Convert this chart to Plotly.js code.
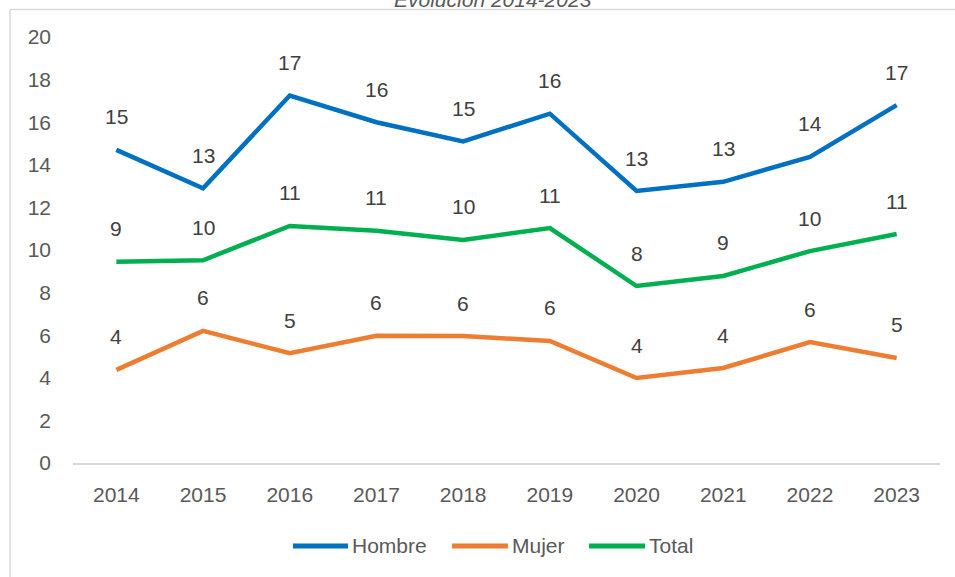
<!DOCTYPE html>
<html>
<head>
<meta charset="utf-8">
<script src="https://cdn.plot.ly/plotly-3.0.1.min.js"></script>
<style>html,body{margin:0;padding:0;background:#fff;}#chart{width:955px;height:577px;}</style>
</head>
<body>
<div id="chart"></div>
<script>
const years = ['2014','2015','2016','2017','2018','2019','2020','2021','2022','2023'];
const hombre = [14.7, 12.9, 17.25, 16.0, 15.1, 16.4, 12.77, 13.2, 14.37, 16.8];
const mujer  = [4.37, 6.2, 5.16, 5.97, 5.96, 5.73, 3.99, 4.46, 5.68, 4.93];
const total  = [9.45, 9.52, 11.13, 10.9, 10.47, 11.03, 8.31, 8.78, 9.95, 10.75];
const seriesNames = ['Hombre', 'Mujer', 'Total'];
const seriesColors = ['#0070C0', '#ED7D31', '#00B050'];
const allSeries = [hombre, mujer, total];
const chartTitle = 'Evolución 2014-2023';

const font = 'Liberation Sans, Arial, sans-serif';
const traces = allSeries.map((vals, i) => ({
  type: 'scatter', mode: 'lines', x: years, y: vals, name: seriesNames[i],
  line: {color: seriesColors[i], width: 4.5}, hoverinfo: 'skip', showlegend: false
}));

const annotations = [];
const shapes = [];
allSeries.forEach(vals => {
  vals.forEach((v, j) => {
    annotations.push({x: j, y: v, xref: 'x', yref: 'y', text: String(Math.round(v)),
      showarrow: false, yshift: 33, font: {family: font, size: 21, color: '#404040'}});
  });
});
annotations.push({x: 0.485, y: 1.089, xref: 'paper', yref: 'paper', xanchor: 'center', yanchor: 'middle',
  text: '<i>' + chartTitle + '</i>', showarrow: false, font: {family: font, size: 21, color: '#595959'}});

// custom legend (layout positions in paper units)
const legY = -0.1948;
const legLineX = [[0.2537, 0.3172], [0.4371, 0.5017], [0.5952, 0.6598]];
seriesNames.forEach((name, i) => {
  shapes.push({type: 'line', xref: 'paper', yref: 'paper', x0: legLineX[i][0], x1: legLineX[i][1],
    y0: legY, y1: legY, line: {color: seriesColors[i], width: 5}});
  annotations.push({x: legLineX[i][1] + 0.002, y: legY, xref: 'paper', yref: 'paper', xanchor: 'left', yanchor: 'middle',
    text: name, showarrow: false, font: {family: font, size: 21, color: '#595959'}});
});

shapes.push(
  {type: 'line', xref: 'paper', yref: 'paper', x0: -0.0727, x1: -0.0727, y0: 1.0646, y1: -0.3, line: {color: '#D9D9D9', width: 1.5}},
  {type: 'line', xref: 'paper', yref: 'paper', x0: -0.0727, x1: 1.03, y0: 1.0646, y1: 1.0646, line: {color: '#D9D9D9', width: 1.5}}
);

const layout = {
  width: 955, height: 577,
  margin: {l: 73, r: 15, t: 37, b: 114},
  paper_bgcolor: '#fff', plot_bgcolor: '#fff',
  font: {family: font, color: '#595959', size: 21},
  xaxis: {type: 'category', range: [-0.5, 9.5], showgrid: false, zeroline: false,
    showline: true, linecolor: '#D9D9D9', linewidth: 1.5, ticks: '', ticklabelstandoff: 12,
    tickfont: {family: font, size: 21, color: '#595959'}},
  yaxis: {range: [0, 20], dtick: 2, showgrid: false, zeroline: false, showline: false,
    ticks: '', ticklabelstandoff: 21, tickfont: {family: font, size: 21, color: '#595959'}},
  showlegend: false,
  annotations: annotations,
  shapes: shapes
};

Plotly.newPlot('chart', traces, layout, {displayModeBar: false, staticPlot: true});
</script>
</body>
</html>
